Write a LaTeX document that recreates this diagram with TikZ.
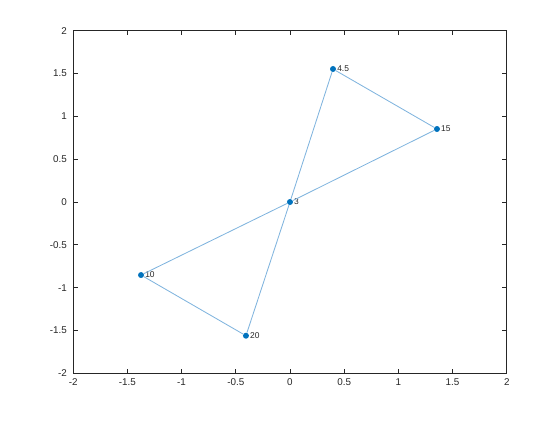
\documentclass[tikz,border=0pt]{standalone}
\usepackage{fontspec}
\setmainfont{Liberation Sans}
\usepackage{tikz}
\definecolor{edgeblue}{RGB}{128,180,222}
\definecolor{nodeblue}{RGB}{0,114,189}
\definecolor{axisgray}{RGB}{38,38,38}

\begin{document}
\begin{tikzpicture}[x=2.71cm, y=2.14cm,
		vert/.style={circle, fill=nodeblue, inner sep=0pt, minimum size=0.15cm},
		vlabel/.style={anchor=west, inner sep=0.5pt, font=\fontsize{6}{7}\selectfont, text=axisgray},
		edge/.style={draw=edgeblue, line width=0.6pt},
		ticklabel/.style={inner sep=0pt, font=\fontsize{7}{8}\selectfont, text=axisgray}]
				% Axes box, ticks and tick labels:
				\useasboundingbox (-2.675,-2.547) rectangle (2.491,2.36);
				\draw[axisgray, line width=0.5pt] (-2,-2) rectangle (2,2);
				\foreach \t in {-2,-1.5,-1,-0.5,0,0.5,1,1.5,2}{
					\draw[axisgray, line width=0.5pt] (\t,-2) -- ++(0,0.05) (\t,2) -- ++(0,-0.05);
					\draw[axisgray, line width=0.5pt] (-2,\t) -- ++(0.04,0) (2,\t) -- ++(-0.04,0);
					\node[ticklabel, anchor=north, yshift=-0.12cm] at (\t,-2){\t};
					\node[ticklabel, anchor=east, xshift=-0.15cm] at (-2,\t){\t};
				}
				% Vertices and labels:
				\node[vert](v3) at (0, 0){};
				\node[vert](v45) at (0.397, 1.554){};
				\node[vert](v15) at (1.356, 0.853){};
				\node[vert](v10) at (-1.374, -0.853){};
				\node[vert](v20) at (-0.406, -1.562){};
				\node[vlabel](l3) at (v3.east){3};
				\node[vlabel](l45) at (v45.east){4.5};
				\node[vlabel](l15) at (v15.east){15};
				\node[vlabel](l10) at (v10.east){10};
				\node[vlabel](l20) at (v20.east){20};
				% Edges:
				\draw[edge] (v45) -- (v15);
				\draw[edge] (v15) -- (v3);
				\draw[edge] (v3) -- (v10);
				\draw[edge] (v10) -- (v20);
				\draw[edge] (v20) -- (v3);
				\draw[edge] (v3) -- (v45);
			\end{tikzpicture}
\end{document}
